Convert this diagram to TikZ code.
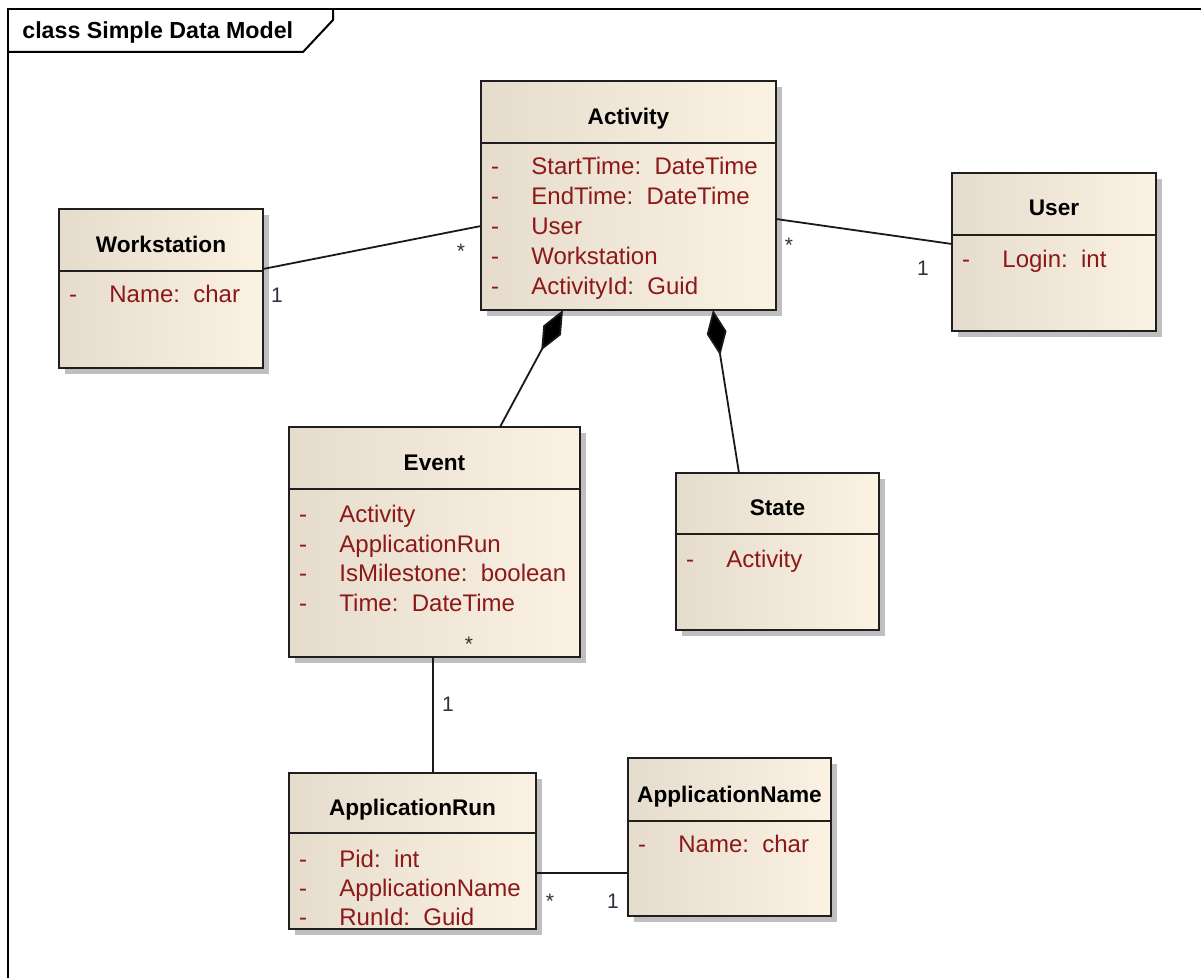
\documentclass[tikz,border=0pt]{standalone}
\usepackage{fontspec}
\setmainfont{Liberation Sans}
\usetikzlibrary{arrows.meta,shadows}

\definecolor{clsleft}{RGB}{230,220,205}
\definecolor{clsright}{RGB}{251,242,227}
\definecolor{attrred}{RGB}{140,24,24}
\definecolor{multgray}{RGB}{45,50,62}

\tikzset{
  cls/.style={draw=black!88, line width=1pt, left color=clsleft, right color=clsright,
    anchor=north west, inner sep=0pt, outer sep=0pt,
    drop shadow={shadow xshift=3pt, shadow yshift=-3pt, fill=black!25, opacity=1}},
  clstitle/.style={font=\fontsize{11.3}{13}\selectfont\bfseries, anchor=base, inner sep=0pt},
  rule/.style={draw=black!88, line width=1pt},
  vis/.style={font=\fontsize{12}{14}\selectfont, text=attrred, anchor=base, inner sep=0pt},
  attr/.style={font=\fontsize{12}{14}\selectfont, text=attrred, anchor=base west, inner sep=0pt},
  mult/.style={font=\fontsize{10.5}{12}\selectfont, text=multgray, anchor=base, inner sep=0pt},
  assoc/.style={draw=black!90, line width=0.9pt},
  compo/.style={assoc, -{Diamond[length=23pt, width=10pt, fill=black]}},
}

\begin{document}
\begin{tikzpicture}[x=0.5pt, y=-0.5pt]
  \useasboundingbox (0,0) rectangle (1201,978);
  % frame
  \draw[line width=1pt] (8,990) -- (8,9) -- (1210,9);
  \draw[line width=1pt] (8,52) -- (303,52) -- (333,20) -- (333,9);
  \node[font=\fontsize{11.6}{13}\selectfont\bfseries, anchor=base west, inner sep=0pt] (frame) at (22,39) {class Simple Data Model};

  % Activity
  \node[cls, minimum width=295*0.5pt, minimum height=229*0.5pt] (act) at (481,81) {};
  \node[clstitle] (act-t) at (act.north |- 0,125) {Activity};
  \draw[rule] (act.west |- 0,143) -- (act.east |- 0,143);
  \foreach \a [count=\i] in {StartTime:~~DateTime, EndTime:~~DateTime, User, Workstation, ActivityId:~~Guid} {
    \node[vis] (act-d\i) at (495,{145+30*\i}) {-};
    \node[attr] (act-a\i) at (531,{145+30*\i}) {\a};
  }

  % Workstation
  \node[cls, minimum width=204*0.5pt, minimum height=159*0.5pt] (ws) at (59,209) {};
  \node[clstitle] (ws-t) at (ws.north |- 0,253) {Workstation};
  \draw[rule] (ws.west |- 0,271) -- (ws.east |- 0,271);
  \node[vis] (ws-d1) at (73,303) {-};
  \node[attr] (ws-a1) at (109,303) {Name:~~char};

  % User
  \node[cls, minimum width=204*0.5pt, minimum height=158*0.5pt] (user) at (952,173) {};
  \node[clstitle] (user-t) at (user.north |- 0,216) {User};
  \draw[rule] (user.west |- 0,235) -- (user.east |- 0,235);
  \node[vis] (user-d1) at (966,268) {-};
  \node[attr] (user-a1) at (1002,268) {Login:~~int};

  % Event
  \node[cls, minimum width=291*0.5pt, minimum height=230*0.5pt] (ev) at (289,427) {};
  \node[clstitle] (ev-t) at (ev.north |- 0,471) {Event};
  \draw[rule] (ev.west |- 0,489) -- (ev.east |- 0,489);
  \foreach \a [count=\i] in {Activity, ApplicationRun, IsMilestone:~~boolean, Time:~~DateTime} {
    \node[vis] (ev-d\i) at (303,{493.5+29.5*\i}) {-};
    \node[attr] (ev-a\i) at (339,{493.5+29.5*\i}) {\a};
  }

  % State
  \node[cls, minimum width=203*0.5pt, minimum height=157*0.5pt] (st) at (676,473) {};
  \node[clstitle] (st-t) at (st.north |- 0,516) {State};
  \draw[rule] (st.west |- 0,534) -- (st.east |- 0,534);
  \node[vis] (st-d1) at (690,568) {-};
  \node[attr] (st-a1) at (726,568) {Activity};

  % ApplicationRun
  \node[cls, minimum width=247*0.5pt, minimum height=156*0.5pt] (run) at (289,773) {};
  \node[clstitle] (run-t) at (run.north |- 0,816) {ApplicationRun};
  \draw[rule] (run.west |- 0,833) -- (run.east |- 0,833);
  \foreach \a [count=\i] in {Pid:~~int, ApplicationName, RunId:~~Guid} {
    \node[vis] (run-d\i) at (303,{838+29*\i}) {-};
    \node[attr] (run-a\i) at (339,{838+29*\i}) {\a};
  }

  % ApplicationName
  \node[cls, minimum width=203*0.5pt, minimum height=158*0.5pt] (name) at (628,758) {};
  \node[clstitle] (name-t) at (name.north |- 0,803) {ApplicationName};
  \draw[rule] (name.west |- 0,821) -- (name.east |- 0,821);
  \node[vis] (name-d1) at (642,852) {-};
  \node[attr] (name-a1) at (678,852) {Name:~~char};

  % connectors
  \draw[assoc] (ws.east |- 0,269) -- (act.west |- 0,226);
  \draw[assoc] (act.east |- 0,219) -- (user.west |- 0,244);
  \draw[compo] (ev.north -| 500,0) -- (act.south -| 563,0);
  \draw[compo] (st.north -| 739,0) -- (act.south -| 713,0);
  \draw[assoc] (ev.south -| 433,0) -- (run.north -| 433,0);
  \draw[assoc] (run.east |- 0,873) -- (name.west |- 0,873);

  % multiplicities
  \node[mult] (m-ws) at (277,303) {1};
  \node[mult] (m-act1) at (461,259) {*};
  \node[mult] (m-act2) at (789,253) {*};
  \node[mult] (m-user) at (923,276) {1};
  \node[mult] (m-ev) at (469,652) {*};
  \node[mult] (m-run1) at (448,712) {1};
  \node[mult] (m-run2) at (550,908) {*};
  \node[mult] (m-name) at (613,908) {1};
\end{tikzpicture}
\end{document}
